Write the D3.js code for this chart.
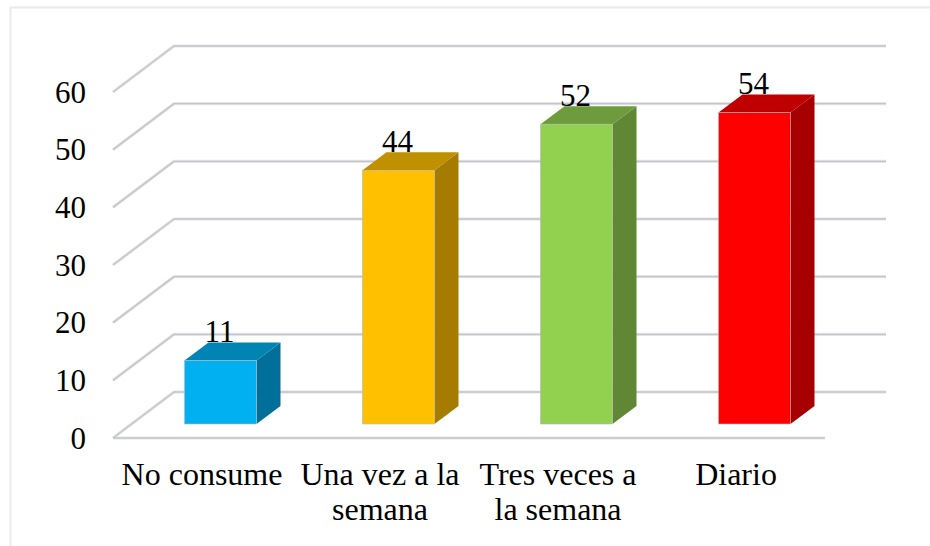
<!DOCTYPE html>
<html>
<head>
<meta charset="utf-8">
<script src="https://d3js.org/d3.v7.min.js"></script>
<style>
  html, body { margin: 0; padding: 0; background: #fff; }
  svg { display: block; }
  text { font-family: "Liberation Serif", serif; fill: #000; }
</style>
</head>
<body>
<svg id="chart" width="930" height="546"></svg>
<script>
const categories = ['No consume', 'Una vez a la semana', 'Tres veces a la semana', 'Diario'];
const categoryLines = [['No consume'], ['Una vez a la', 'semana'], ['Tres veces a', 'la semana'], ['Diario']];
const values = [11, 44, 52, 54];
const yTicks = [0, 10, 20, 30, 40, 50, 60];
const frontColors = ['#00b0f0', '#ffc000', '#92d050', '#ff0000'];
const topColors = ['#0084b4', '#bf9000', '#6e9c3c', '#bf0000'];
const sideColors = ['#00709a', '#a67c00', '#5f8734', '#a60000'];

const floorDx = 61, floorDy = -46;
const barDepthX = 24, barDepthY = -18;
const barInsetX = 18.5, barInsetY = -14;
const barWidth = 72;

const svg = d3.select('#chart');

const x = d3.scaleBand().domain(categories).range([113, 825]);
const y = d3.scaleLinear().domain([0, 60]).range([438, 92]);

// outer frame runs off the right and bottom of the picture
svg.append('path')
    .attr('d', 'M10.5,546V7.5H930')
    .attr('fill', 'none')
    .attr('stroke', '#e8eaf1').attr('stroke-width', 2);

// walls and floor gridlines
const line = d3.line();
const gridPath = t => {
    const p = [[x.range()[0], y(t)], [x.range()[0] + floorDx, y(t) + floorDy], [x.range()[1] + floorDx, y(t) + floorDy]];
    return line(p);
};
const frontPath = () => line([[x.range()[0], y(0)], [x.range()[1], y(0)]]);

const grid = svg.append('g').attr('fill', 'none').attr('stroke-linejoin', 'round');
grid.selectAll('path.halo').data(yTicks).join('path')
    .attr('class', 'halo')
    .attr('d', gridPath)
    .attr('stroke', '#e4e5e8').attr('stroke-width', 3.2);
grid.append('path').attr('d', frontPath())
    .attr('stroke', '#e4e5e8').attr('stroke-width', 3.2);
grid.selectAll('path.core').data(yTicks).join('path')
    .attr('class', 'core')
    .attr('d', gridPath)
    .attr('stroke', '#c4c4ca').attr('stroke-width', 1.4);
grid.append('path').attr('d', frontPath())
    .attr('stroke', '#c4c4ca').attr('stroke-width', 1.4);

// bars
const bars = svg.append('g').selectAll('g').data(categories).join('g');
const left = d => x(d) + (x.bandwidth() - barWidth) / 2 + barInsetX;
const base = y(0) + barInsetY;
const topY = (d, i) => y(values[i]) + barInsetY;

bars.append('path')
    .attr('fill', (d, i) => sideColors[i])
    .attr('d', (d, i) => line([
        [left(d) + barWidth, topY(d, i)],
        [left(d) + barWidth + barDepthX, topY(d, i) + barDepthY],
        [left(d) + barWidth + barDepthX, base + barDepthY],
        [left(d) + barWidth, base]
    ]) + 'Z');

bars.append('path')
    .attr('fill', (d, i) => topColors[i])
    .attr('d', (d, i) => line([
        [left(d), topY(d, i)],
        [left(d) + barDepthX, topY(d, i) + barDepthY],
        [left(d) + barWidth + barDepthX, topY(d, i) + barDepthY],
        [left(d) + barWidth, topY(d, i)]
    ]) + 'Z');

bars.append('rect')
    .attr('x', left)
    .attr('y', topY)
    .attr('width', barWidth)
    .attr('height', (d, i) => base - topY(d, i))
    .attr('fill', (d, i) => frontColors[i])
    .attr('stroke', '#b4b8bc').attr('stroke-width', 0.6);

// value labels
bars.append('text')
    .attr('x', d => left(d) + barWidth / 2 - 1)
    .attr('y', (d, i) => topY(d, i) + barDepthY - 0.5)
    .attr('text-anchor', 'middle')
    .style('font-size', '31px')
    .text((d, i) => values[i]);

// y axis
const yAxis = svg.append('g')
    .attr('transform', 'translate(113,0)')
    .call(d3.axisLeft(y).tickValues(yTicks).tickSize(0).tickPadding(27));
yAxis.select('.domain').remove();
yAxis.selectAll('text')
    .attr('dy', null)
    .attr('y', 10)
    .style('font-family', '"Liberation Serif", serif')
    .style('font-size', '31px');

// category labels
const xAxis = svg.append('g')
    .attr('transform', 'translate(0,438)')
    .call(d3.axisBottom(x).tickSize(0).tickFormat(''));
xAxis.select('.domain').remove();
xAxis.selectAll('.tick').each(function (d, i) {
    d3.select(this).selectAll('text').remove();
    d3.select(this).selectAll('text.cat').data(categoryLines[i]).join('text')
        .attr('class', 'cat')
        .attr('y', (l, j) => 47 + j * 35)
        .attr('text-anchor', 'middle')
        .style('font-family', '"Liberation Serif", serif')
        .style('font-size', '32px')
        .style('fill', '#000')
        .text(l => l);
});
</script>
</body>
</html>
